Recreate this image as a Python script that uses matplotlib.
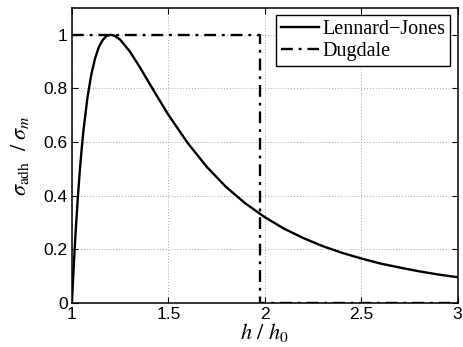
import matplotlib
matplotlib.use("Agg")
import matplotlib.pyplot as plt

# Lennard-Jones traction
h_lj = [1.00, 1.01, 1.02, 1.03, 1.04, 1.05, 1.06, 1.08, 1.10, 1.12, 1.14, 1.16,
        1.18, 1.20, 1.22, 1.25, 1.30, 1.35, 1.40, 1.45, 1.50, 1.60, 1.70, 1.80,
        1.90, 2.00, 2.10, 2.20, 2.30, 2.40, 2.50, 2.60, 2.70, 2.80, 2.90, 3.00]
s_lj = [0.000, 0.146, 0.274, 0.386, 0.484, 0.570, 0.644, 0.763, 0.850, 0.912,
        0.955, 0.981, 0.996, 1.000, 0.997, 0.982, 0.938, 0.882, 0.821, 0.761,
        0.702, 0.597, 0.507, 0.432, 0.371, 0.320, 0.277, 0.242, 0.212, 0.187,
        0.166, 0.147, 0.132, 0.118, 0.106, 0.096]

# Dugdale traction
h_dd = [1.0, 1.975, 1.975, 3.0]
s_dd = [1.0, 1.0, 0.0, 0.0]

xticks = [1, 1.5, 2, 2.5, 3]
xticklabels = ["1", "1.5", "2", "2.5", "3"]
yticks = [0, 0.2, 0.4, 0.6, 0.8, 1]
yticklabels = ["0", "0.2", "0.4", "0.6", "0.8", "1"]

plt.rcParams["mathtext.fontset"] = "stix"

fig = plt.figure(figsize=(4.64, 3.47), dpi=100)
ax = fig.add_axes([0.155, 0.127, 0.831, 0.85])

ax.plot(h_lj, s_lj, color="black", lw=1.7, label="Lennard\u2212Jones")
ax.plot(h_dd, s_dd, color="black", lw=1.7, dashes=(5, 2.5, 1.2, 2.5), label="Dugdale")

ax.set_xlim(1, 3)
ax.set_ylim(0, 1.1)
ax.set_xticks(xticks)
ax.set_xticklabels(xticklabels, family="Liberation Sans", fontsize=12.5)
ax.set_yticks(yticks)
ax.set_yticklabels(yticklabels, family="Liberation Sans", fontsize=12.5)
ax.tick_params(direction="in", top=True, right=True, length=4, width=0.8, pad=3)
ax.grid(True, color="#888888", linestyle=(0, (1, 2.5)), lw=0.6)
for sp in ax.spines.values():
    sp.set_linewidth(1.1)

ax.set_xlabel(r"$h\ /\ h_0$", fontsize=16, labelpad=-1)
ax.set_ylabel(r"$\sigma_{\rm adh}\ \ /\ \sigma_m$", fontsize=16, labelpad=9)

leg = ax.legend(loc="upper right", prop={"family": "Liberation Serif", "size": 14.5},
                fancybox=False, edgecolor="black", framealpha=1, borderaxespad=0.35,
                handlelength=1.9, handletextpad=0.15, borderpad=0.25, labelspacing=0.15)
leg.get_frame().set_linewidth(1.0)

fig.savefig("out.png", dpi=100)
